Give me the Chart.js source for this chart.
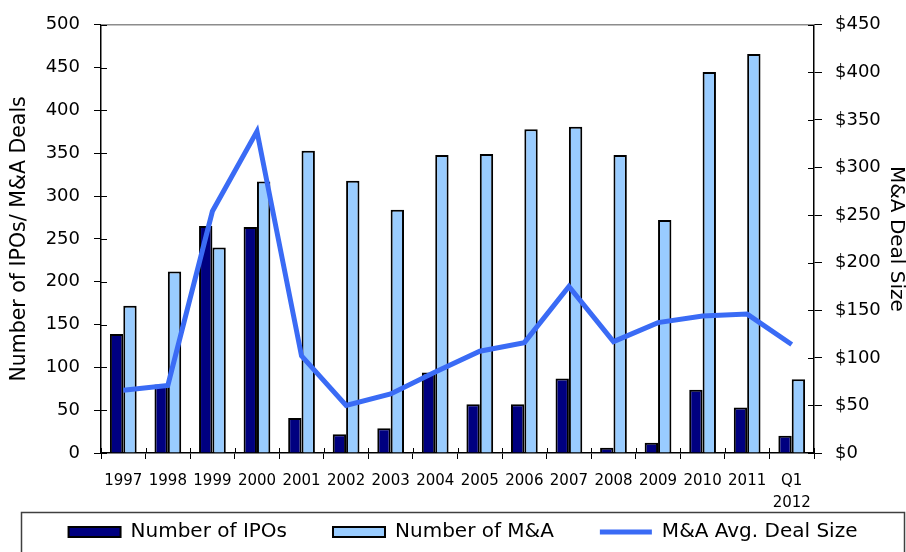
<!DOCTYPE html>
<html>
<head>
<meta charset="utf-8">
<script src="https://cdn.jsdelivr.net/npm/chart.js@4/dist/chart.umd.min.js"></script>
<style>
  html,body{margin:0;padding:0;background:#fff}
  canvas{display:block}
</style>
</head>
<body>
<canvas id="dealChart" width="906" height="552"></canvas>
<script>
// ── DATA ─────────────────────────────────────────────────────────────────────
const YEARS = ['1997','1998','1999','2000','2001','2002','2003','2004','2005','2006','2007','2008','2009','2010','2011',['Q1','2012']];
const IPOS      = [139, 80,265,264, 41, 22, 29, 94, 57, 57, 87,  6, 12, 74, 53, 20];
const MNA_DEALS = [172,212,240,317,353,318,284,348,349,378,381,348,272,445,466, 86];
const DEAL_SIZE = [ 66, 71,254,338,102, 50, 62, 85,107,116,175,117,137,144,146,114];
const LEFT_TICKS  = [0,50,100,150,200,250,300,350,400,450,500];
const RIGHT_TICKS = [0,50,100,150,200,250,300,350,400,450];

const NAVY='#000080', LIGHT='#99ccff', LINE='#3a6bf5';
const FONT='DejaVu Sans';

// legend: wide gaps between items but a short box (labels.padding drives both)
const legendShape={
  id:'legendShape',
  afterInit(chart){
    const lg=chart.legend;
    if(!lg) return;
    const fit=lg.fit.bind(lg);
    lg.fit=function(){fit();this.height=40;};
    const draw=lg.draw.bind(lg);
    lg.draw=function(){
      const t=this.top,l=this.left;
      this.top=t-36;this.left=l+20;
      draw();
      this.top=t;this.left=l;
    };
  }
};

// plot frame: grey top line, inward tick marks, legend border
const framePlugin={
  id:'frame',
  afterDraw(chart){
    const {ctx,chartArea:a,scales}=chart;
    ctx.save();
    ctx.strokeStyle='#8c8c8c';ctx.lineWidth=1.5;
    ctx.beginPath();ctx.moveTo(a.left,a.top);ctx.lineTo(a.right,a.top);ctx.stroke();
    ctx.strokeStyle='#000';ctx.lineWidth=1;
    ctx.beginPath();
    scales.y.ticks.forEach(t=>{const py=Math.round(scales.y.getPixelForValue(t.value))+0.5;ctx.moveTo(a.left,py);ctx.lineTo(a.left+6,py);});
    scales.y2.ticks.forEach(t=>{const py=Math.round(scales.y2.getPixelForValue(t.value))+0.5;ctx.moveTo(a.right-6,py);ctx.lineTo(a.right,py);});
    for(let i=0;i<=YEARS.length;i++){
      const px=Math.round(scales.x.getPixelForValue(i-0.5))+0.5;
      ctx.moveTo(px,a.bottom-5);ctx.lineTo(px,a.bottom);
    }
    ctx.stroke();
    const lg=chart.legend;
    if(lg){
      ctx.strokeStyle='#404040';ctx.lineWidth=1.5;
      ctx.strokeRect(21.5,Math.round(lg.top)+0.5,883,80);
    }
    ctx.restore();
  }
};

new Chart(document.getElementById('dealChart'),{
  data:{
    labels:YEARS,
    datasets:[
      {type:'bar',label:'Number of IPOs',data:IPOS,backgroundColor:NAVY,borderColor:'#000',borderWidth:2,yAxisID:'y',order:1,
       categoryPercentage:0.6,barPercentage:1,inflateAmount:0},
      {type:'bar',label:'Number of M&A',data:MNA_DEALS,backgroundColor:LIGHT,borderColor:'#000',borderWidth:2,yAxisID:'y',order:1,
       categoryPercentage:0.6,barPercentage:1,inflateAmount:0},
      {type:'line',label:'M&A Avg. Deal Size',data:DEAL_SIZE,borderColor:LINE,backgroundColor:LINE,borderWidth:5,
       pointRadius:0,tension:0,fill:false,yAxisID:'y2',order:0}
    ]
  },
  options:{
    responsive:false,
    animation:false,
    devicePixelRatio:1,
    layout:{padding:{top:21,left:0,right:0,bottom:0}},
    plugins:{
      tooltip:{enabled:false},
      legend:{
        position:'bottom',
        labels:{
          color:'#000',font:{family:FONT,size:20},
          usePointStyle:true,pointStyleWidth:52,boxHeight:10,padding:46,
          sort:(a,b)=>a.datasetIndex-b.datasetIndex,
          generateLabels(chart){
            const items=Chart.defaults.plugins.legend.labels.generateLabels(chart);
            items.forEach(it=>{
              const ds=chart.data.datasets[it.datasetIndex];
              if(ds.type==='line'){it.pointStyle='line';it.lineWidth=5;it.strokeStyle=ds.borderColor;}
              else{it.pointStyle='rect';it.lineWidth=2;it.strokeStyle='#000';it.fillStyle=ds.backgroundColor;}
            });
            return items;
          }
        }
      }
    },
    scales:{
      x:{
        offset:true,
        grid:{offset:true,drawOnChartArea:false,drawTicks:true,tickLength:6,color:'#000'},
        border:{color:'#000',width:1.5},
        ticks:{color:'#000',font:{family:FONT,size:15,lineHeight:1.47},padding:11,maxRotation:0,autoSkip:false},
        afterFit:s=>{s.height=59;}
      },
      y:{
        position:'left',min:0,max:500,
        afterBuildTicks:s=>{s.ticks=LEFT_TICKS.map(v=>({value:v}));},
        grid:{drawOnChartArea:false,tickLength:7,color:'#000'},
        border:{color:'#000',width:1.5},
        ticks:{color:'#000',font:{family:FONT,size:18},padding:14},
        title:{display:true,text:'Number of IPOs/ M&A Deals',color:'#000',font:{family:FONT,size:20.5},padding:{top:7,bottom:0}},
        afterFit:s=>{s.width=101;}
      },
      y2:{
        position:'right',min:0,max:450,
        afterBuildTicks:s=>{s.ticks=RIGHT_TICKS.map(v=>({value:v}));},
        grid:{drawOnChartArea:false,tickLength:8,color:'#000'},
        border:{color:'#000',width:1.5},
        ticks:{color:'#000',font:{family:FONT,size:18},padding:13,callback:v=>'$'+v},
        title:{display:true,text:'M&A Deal Size',color:'#000',font:{family:FONT,size:20},padding:{top:-2,bottom:0}},
        afterFit:s=>{s.width=92;}
      }
    }
  },
  plugins:[legendShape,framePlugin]
});
</script>
</body>
</html>
